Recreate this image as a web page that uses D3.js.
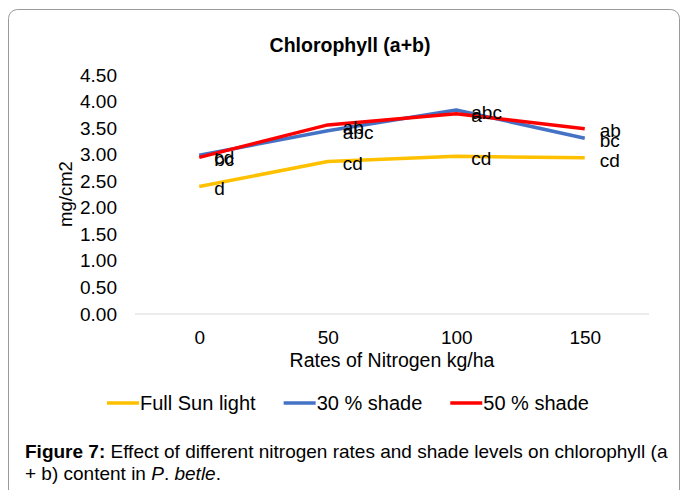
<!DOCTYPE html>
<html>
<head>
<meta charset="utf-8">
<script src="https://cdn.jsdelivr.net/npm/d3@7"></script>
<style>
  body { margin: 0; background: #fff; }
  svg { display: block; font-family: "Liberation Sans", Arial, sans-serif; }
</style>
</head>
<body>
<div id="chart"></div>
<script>
var WIDTH = 683;
var HEIGHT = 490;

// data
var rates = ["0", "50", "100", "150"];
var yTicks = [0, 0.5, 1, 1.5, 2, 2.5, 3, 3.5, 4, 4.5];

var fullSun = [2.40, 2.87, 2.97, 2.94];
var shade30 = [2.99, 3.45, 3.84, 3.31];
var shade50 = [2.95, 3.56, 3.77, 3.49];

var fullSunLabels = ["d", "cd", "cd", "cd"];
var shade30Labels = ["cd", "abc", "abc", "bc"];
var shade50Labels = ["bc", "ab", "a", "ab"];

var seriesNames = ["Full Sun light", "30 % shade", "50 % shade"];
var seriesColors = ["#FFC000", "#4472C4", "#FF0000"];

function init() {
    var svg = d3.select("#chart").append("svg")
        .attr("width", WIDTH)
        .attr("height", HEIGHT);

    // outer frame of the figure box
    svg.append("rect")
        .attr("x", 8.5).attr("y", 9.5)
        .attr("width", 671).attr("height", 500)
        .attr("rx", 9)
        .attr("fill", "none")
        .attr("stroke", "#9a9a9a");

    var x = d3.scalePoint().domain(rates).range([135, 649]).padding(0.5);
    var y = d3.scaleLinear().domain([0, 4.5]).range([314, 75]);

    svg.append("text")
        .attr("x", 350).attr("y", 45)
        .attr("dy", "0.35em")
        .attr("text-anchor", "middle")
        .attr("font-size", 19.5)
        .attr("font-weight", "bold")
        .text("Chlorophyll (a+b)");

    // y axis: labels only
    var yAxis = svg.append("g")
        .attr("transform", "translate(117,0)")
        .call(d3.axisLeft(y).tickValues(yTicks).tickFormat(d3.format(".2f")).tickSize(0).tickPadding(0));
    yAxis.select(".domain").remove();
    yAxis.selectAll("text").attr("font-size", 19).attr("font-family", null).attr("fill", "#000");

    // baseline
    svg.append("line")
        .attr("x1", 135).attr("x2", 649)
        .attr("y1", y(0)).attr("y2", y(0))
        .attr("stroke", "#d9d9d9")
        .attr("stroke-width", 1);

    var xAxis = svg.append("g")
        .attr("transform", "translate(0,337)")
        .call(d3.axisBottom(x).tickSize(0).tickPadding(0));
    xAxis.select(".domain").remove();
    xAxis.selectAll("text")
        .attr("font-size", 19).attr("font-family", null).attr("fill", "#000")
        .attr("dy", "0.35em");

    svg.append("text")
        .attr("x", 392).attr("y", 360)
        .attr("dy", "0.35em")
        .attr("text-anchor", "middle")
        .attr("font-size", 19.5)
        .text("Rates of Nitrogen kg/ha");

    svg.append("text")
        .attr("transform", "translate(66,194) rotate(-90)")
        .attr("dy", "0.35em")
        .attr("text-anchor", "middle")
        .attr("font-size", 18.5)
        .text("mg/cm2");

    var series = [
        { values: fullSun, labels: fullSunLabels },
        { values: shade30, labels: shade30Labels },
        { values: shade50, labels: shade50Labels }
    ];

    var line = d3.line()
        .x(function(d, i) { return x(rates[i]); })
        .y(function(d) { return y(d); });

    series.forEach(function(s, k) {
        svg.append("path")
            .datum(s.values)
            .attr("d", line)
            .attr("fill", "none")
            .attr("stroke", seriesColors[k])
            .attr("stroke-width", 3.5)
            .attr("stroke-linejoin", "round");
    });

    // letter labels drawn after all lines (they overlap in the original too)
    series.forEach(function(s) {
        svg.append("g").selectAll("text")
            .data(s.values)
            .enter().append("text")
            .attr("x", function(d, i) { return x(rates[i]) + 15; })
            .attr("y", function(d) { return y(d) + 2; })
            .attr("dy", "0.35em")
            .attr("font-size", 19)
            .text(function(d, i) { return s.labels[i]; });
    });

    // legend
    var legend = svg.append("g");
    var lx = 107;
    seriesNames.forEach(function(name, k) {
        legend.append("line")
            .attr("x1", lx).attr("x2", lx + 32)
            .attr("y1", 403).attr("y2", 403)
            .attr("stroke", seriesColors[k])
            .attr("stroke-width", 3.5);
        var t = legend.append("text")
            .attr("x", lx + 33).attr("y", 403)
            .attr("dy", "0.35em")
            .attr("font-size", 20)
            .text(name);
        lx = lx + 33 + t.node().getComputedTextLength() + 28;
    });

    // caption
    var cap1 = svg.append("text")
        .attr("x", 25).attr("y", 458)
        .attr("font-size", 19);
    cap1.append("tspan").attr("font-weight", "bold").text("Figure 7:");
    cap1.append("tspan").text(" Effect of different nitrogen rates and shade levels on chlorophyll (a");

    var cap2 = svg.append("text")
        .attr("x", 25).attr("y", 480)
        .attr("font-size", 19);
    cap2.append("tspan").text("+ b) content in ");
    cap2.append("tspan").attr("font-style", "italic").text("P");
    cap2.append("tspan").text(". ");
    cap2.append("tspan").attr("font-style", "italic").text("betle");
    cap2.append("tspan").text(".");
}

init();
</script>
</body>
</html>
